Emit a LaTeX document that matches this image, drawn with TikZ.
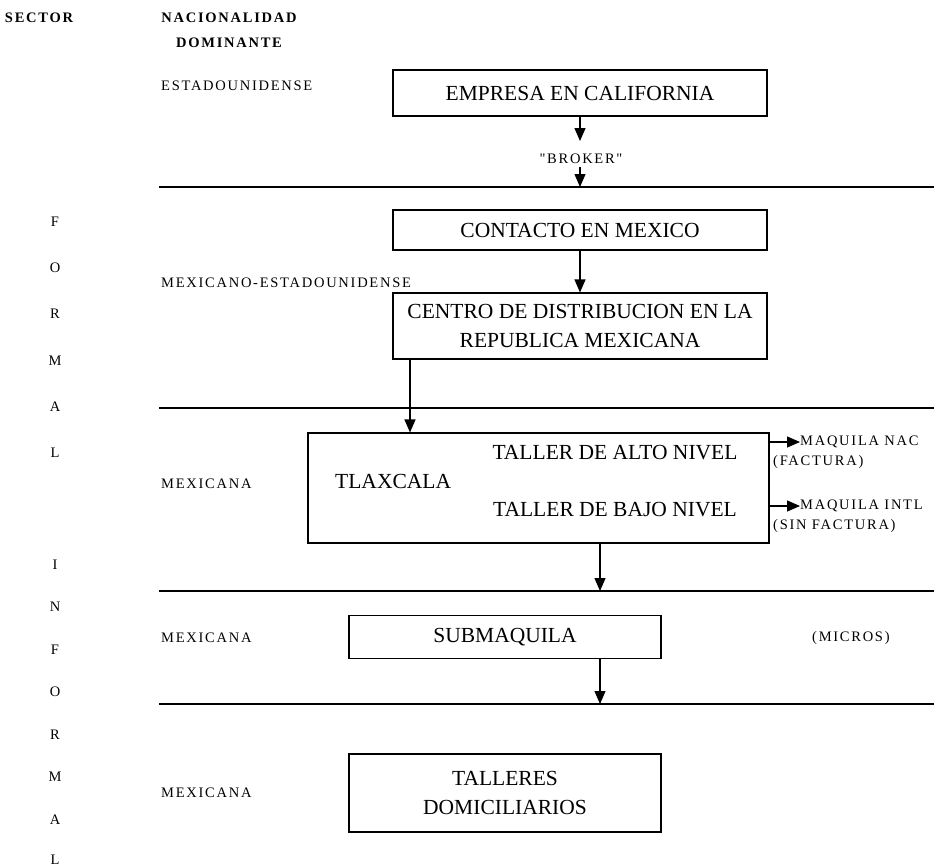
\documentclass[tikz,border=0pt]{standalone}
\usepackage{fontspec}
\setmainfont{Liberation Serif}
\newfontfamily\labfont[LetterSpace=12]{Liberation Serif}
\usetikzlibrary{arrows.meta}
\begin{document}
\begin{tikzpicture}[x=1pt,y=1pt,
  box/.style={draw,line width=1.1pt,inner sep=0pt,align=center,font=\fontsize{21.5}{29}\selectfont},
  boxtext/.style={inner sep=0pt,font=\fontsize{21.5}{26}\selectfont},
  lbl/.style={inner sep=0pt,anchor=west,font=\labfont\fontsize{14.5}{17}\selectfont},
  blbl/.style={inner sep=0pt,align=center,font=\labfont\bfseries\fontsize{14.5}{25}\selectfont},
  letter/.style={inner sep=0pt,font=\labfont\fontsize{14.5}{17}\selectfont},
  sep/.style={line width=1.1pt},
  arr/.style={line width=1.1pt,-{Triangle[width=11pt,length=13pt]}}]
\useasboundingbox (0,0) rectangle (934,-867);

% headers
\node[blbl] (sector) at (39,-18) {SECTOR};
\node[blbl] (nac) at (229,-30) {NACIONALIDAD\\DOMINANTE};

% separator lines
\coordinate (l1a) at (159,-187); \coordinate (l1b) at (934,-187);
\coordinate (l2a) at (159,-408); \coordinate (l2b) at (934,-408);
\coordinate (l3a) at (159,-591); \coordinate (l3b) at (934,-591);
\coordinate (l4a) at (159,-704); \coordinate (l4b) at (934,-704);
\draw[sep] (l1a) -- (l1b);
\draw[sep] (l2a) -- (l2b);
\draw[sep] (l3a) -- (l3b);
\draw[sep] (l4a) -- (l4b);

% nationality labels
\node[lbl] (est) at (161,-86) {ESTADOUNIDENSE};
\node[lbl] (mexest) at (161,-283) {MEXICANO-ESTADOUNIDENSE};
\node[lbl] (mex1) at (161,-484) {MEXICANA};
\node[lbl] (mex2) at (161,-638) {MEXICANA};
\node[lbl] (mex3) at (161,-793) {MEXICANA};

% sector letters
\foreach \ch/\yy [count=\i] in {F/222,O/268,R/314,M/361,A/407,L/453}
  \node[letter] (f\i) at (55,-\yy) {\ch};
\foreach \ch/\yy [count=\i] in {I/565,N/607,F/650,O/692,R/735,M/777,A/820,L/860}
  \node[letter] (i\i) at (55,-\yy) {\ch};

% boxes
\node[box,minimum width=374pt,minimum height=46pt] (empresa) at (580,-93) {EMPRESA EN CALIFORNIA};
\node[inner sep=0pt,font=\labfont\fontsize{14.5}{17}\selectfont] (broker) at (581,-159) {"BROKER"};
\node[box,minimum width=374pt,minimum height=40pt] (contacto) at (580,-230) {CONTACTO EN MEXICO};
\node[box,minimum width=374pt,minimum height=66pt] (centro) at (580,-326) {CENTRO DE DISTRIBUCION EN LA\\REPUBLICA MEXICANA};
\node[draw,line width=1.1pt,inner sep=0pt,minimum width=461pt,minimum height=110pt] (tlax) at (538.5,-488) {};
\node[boxtext,anchor=west] (tlaxt) at (335,-481) {TLAXCALA};
\node[boxtext] (alto) at (615,-453) {TALLER DE ALTO NIVEL};
\node[boxtext] (bajo) at (615,-510) {TALLER DE BAJO NIVEL};
\node[box,minimum width=312pt,minimum height=43pt] (sub) at (505,-637) {SUBMAQUILA};
\node[box,minimum width=312pt,minimum height=78pt] (tall) at (505,-793) {TALLERES\\DOMICILIARIOS};

% right-hand labels
\node[lbl] (maqnac) at (800,-442) {MAQUILA NAC};
\node[lbl] (fact) at (773,-462) {(FACTURA)};
\node[lbl] (maqint) at (800,-506) {MAQUILA INTL};
\node[lbl] (sfact) at (773,-526) {(SIN FACTURA)};
\node[lbl] (micros) at (812,-638) {(MICROS)};

% connectors
\coordinate (c1) at (580,-141);
\coordinate (c2) at (580,-167);
\coordinate (xa) at (410,0);
\coordinate (xb) at (600,0);
\draw[arr] (empresa.south) -- (c1);
\draw[arr] (c2) -- (contacto.north |- l1a);
\draw[arr] (contacto.south) -- (centro.north);
\draw[arr] (centro.south -| xa) -- (tlax.north -| xa);
\draw[arr] (tlax.south -| xb) -- (l3a -| xb);
\draw[arr] (sub.south -| xb) -- (l4a -| xb);
\draw[arr] (tlax.east |- maqnac.west) -- (maqnac.west);
\draw[arr] (tlax.east |- maqint.west) -- (maqint.west);
\end{tikzpicture}
\end{document}
